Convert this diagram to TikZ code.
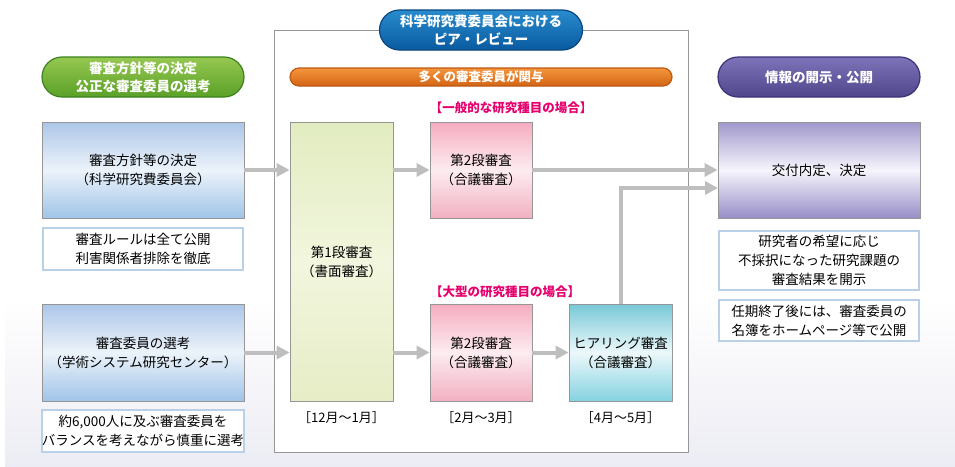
\documentclass[tikz,border=0pt]{standalone}
\usepackage{fontspec}
\setmainfont{Noto Sans CJK JP}
\usepackage{tikz}
\usetikzlibrary{arrows.meta}
\definecolor{gtop}{RGB}{150,200,80}
\definecolor{gbot}{RGB}{90,160,40}
\definecolor{gline}{RGB}{60,130,30}
\definecolor{btop}{RGB}{40,140,205}
\definecolor{bbot}{RGB}{10,90,160}
\definecolor{bline}{RGB}{10,70,130}
\definecolor{otop}{RGB}{245,150,60}
\definecolor{obot}{RGB}{210,100,20}
\definecolor{oline}{RGB}{190,90,20}
\definecolor{ptop}{RGB}{125,115,185}
\definecolor{pbot}{RGB}{80,70,140}
\definecolor{pline}{RGB}{60,50,120}
\definecolor{hot}{RGB}{230,0,110}
\definecolor{flowgray}{RGB}{190,190,190}
\definecolor{framegray}{RGB}{150,150,150}
\definecolor{paleblue}{RGB}{185,208,232}

\begin{document}
\begin{tikzpicture}[
    x=1pt,y=-1pt,
    txt/.style={align=center, inner sep=0pt, font=\fontsize{13.5}{19}\selectfont},
    box/.style={txt, draw=framegray, line width=0.8pt},
    bluebox/.style={box, top color={rgb,255:red,172;green,198;blue,232}, bottom color={rgb,255:red,160;green,196;blue,232}, middle color={rgb,255:red,236;green,243;blue,250}, minimum width=202, minimum height=96},
    notebox/.style={txt, draw=paleblue, line width=1.6pt, fill=white, minimum width=200},
    greenbox/.style={box, top color={rgb,255:red,226;green,236;blue,192}, bottom color={rgb,255:red,230;green,237;blue,198}, middle color={rgb,255:red,242;green,246;blue,222}},
    pinkbox/.style={box, top color={rgb,255:red,246;green,172;blue,192}, bottom color={rgb,255:red,242;green,176;blue,194}, middle color={rgb,255:red,252;green,236;blue,240}, minimum width=102, minimum height=96},
    cyanbox/.style={box, top color={rgb,255:red,120;green,200;blue,215}, bottom color={rgb,255:red,132;green,210;blue,224}, middle color={rgb,255:red,236;green,248;blue,250}, minimum width=103, minimum height=96},
    purplebox/.style={box, top color={rgb,255:red,160;green,152;blue,204}, bottom color={rgb,255:red,150;green,142;blue,198}, middle color={rgb,255:red,246;green,245;blue,252}, minimum width=202, minimum height=96},
    pill/.style={txt, text=white, font=\fontsize{13.5}{18}\selectfont\bfseries, rounded corners=20, line width=1.2pt},
    hotlabel/.style={text=hot, inner sep=0pt, font=\fontsize{12.5}{15}\selectfont\bfseries},
    date/.style={inner sep=0pt, font=\fontsize{13}{15}\selectfont},
    flow/.style={draw=flowgray, line width=4pt, -{Triangle[length=13pt,width=13pt]}}
    ]
    \useasboundingbox (0,0) rectangle (955,466);
    % faint floor
    \shade[top color=white, bottom color={rgb,255:red,236;green,236;blue,244}] (5,300) rectangle (955,466);
    \fill[white] (0,0) rectangle (955,300);
    % peer review frame
    \draw[framegray, line width=0.8pt, fill=white] (274,30) rectangle (688,452);

    % headers
    \node[pill, draw=gline, top color=gtop, bottom color=gbot, minimum width=202, minimum height=40] (gpill) at (143,77) {審査方針等の決定\\公正な審査委員の選考};
    \node[pill, draw=bline, top color=btop, bottom color=bbot, minimum width=203, minimum height=40] (bpill) at (481,30) {科学研究費委員会における\\ピア・レビュー};
    \node[pill, draw=oline, top color=otop, bottom color=obot, rounded corners=9, minimum width=382, minimum height=18, font=\fontsize{12.5}{14}\selectfont\bfseries] (obar) at (481,77) {多くの審査委員が関与};
    \node[pill, draw=pline, top color=ptop, bottom color=pbot, minimum width=202, minimum height=40] (ppill) at (819,77) {情報の開示・公開};

    % left column
    \node[bluebox] (policy) at (143,170) {審査方針等の決定\\（科学研究費委員会）};
    \node[notebox, minimum height=42] (rules) at (143,249) {審査ルールは全て公開\\利害関係者排除を徹底};
    \node[bluebox, minimum height=97] (select) at (143,352.5) {審査委員の選考\\（学術システム研究センター）};
    \node[notebox, minimum height=42] (pool) at (143,431) {約6,000人に及ぶ審査委員を\\バランスを考えながら慎重に選考};

    % review stages
    \node[greenbox, minimum width=103, minimum height=279] (first) at (341.5,261.5) {第1段審査\\（書面審査）};
    \node[hotlabel] (general) at (511,108) {【一般的な研究種目の場合】};
    \node[pinkbox] (second1) at (481,170) {第2段審査\\（合議審査）};
    \node[hotlabel] (large) at (505,292) {【大型の研究種目の場合】};
    \node[pinkbox, minimum height=97] (second2) at (481,352.5) {第2段審査\\（合議審査）};
    \node[cyanbox, minimum height=97] (hearing) at (620.5,352.5) {ヒアリング審査\\（合議審査）};
    \node[date] (d1) at (341.5,418) {［12月～1月］};
    \node[date] (d2) at (481,418) {［2月～3月］};
    \node[date] (d3) at (620.5,418) {［4月～5月］};

    % right column
    \node[purplebox] (decide) at (819,170) {交付内定、決定};
    \node[notebox, minimum height=59] (disclose) at (819,260.5) {研究者の希望に応じ\\不採択になった研究課題の\\審査結果を開示};
    \node[notebox, minimum height=41] (names) at (819,320.5) {任期終了後には、審査委員の\\名簿をホームページ等で公開};
    \coordinate (entry) at (718,188);

    % flows
    \draw[flow] (policy) -- (policy -| first.west);
    \draw[flow] (select) -- (select -| first.west);
    \draw[flow] (second1 -| first.east) -- (second1);
    \draw[flow] (second2 -| first.east) -- (second2);
    \draw[flow] (second2) -- (hearing);
    \draw[flow] (second1) -- (decide);
    \draw[flow] (hearing.north) |- (entry);
  \end{tikzpicture}
\end{document}
